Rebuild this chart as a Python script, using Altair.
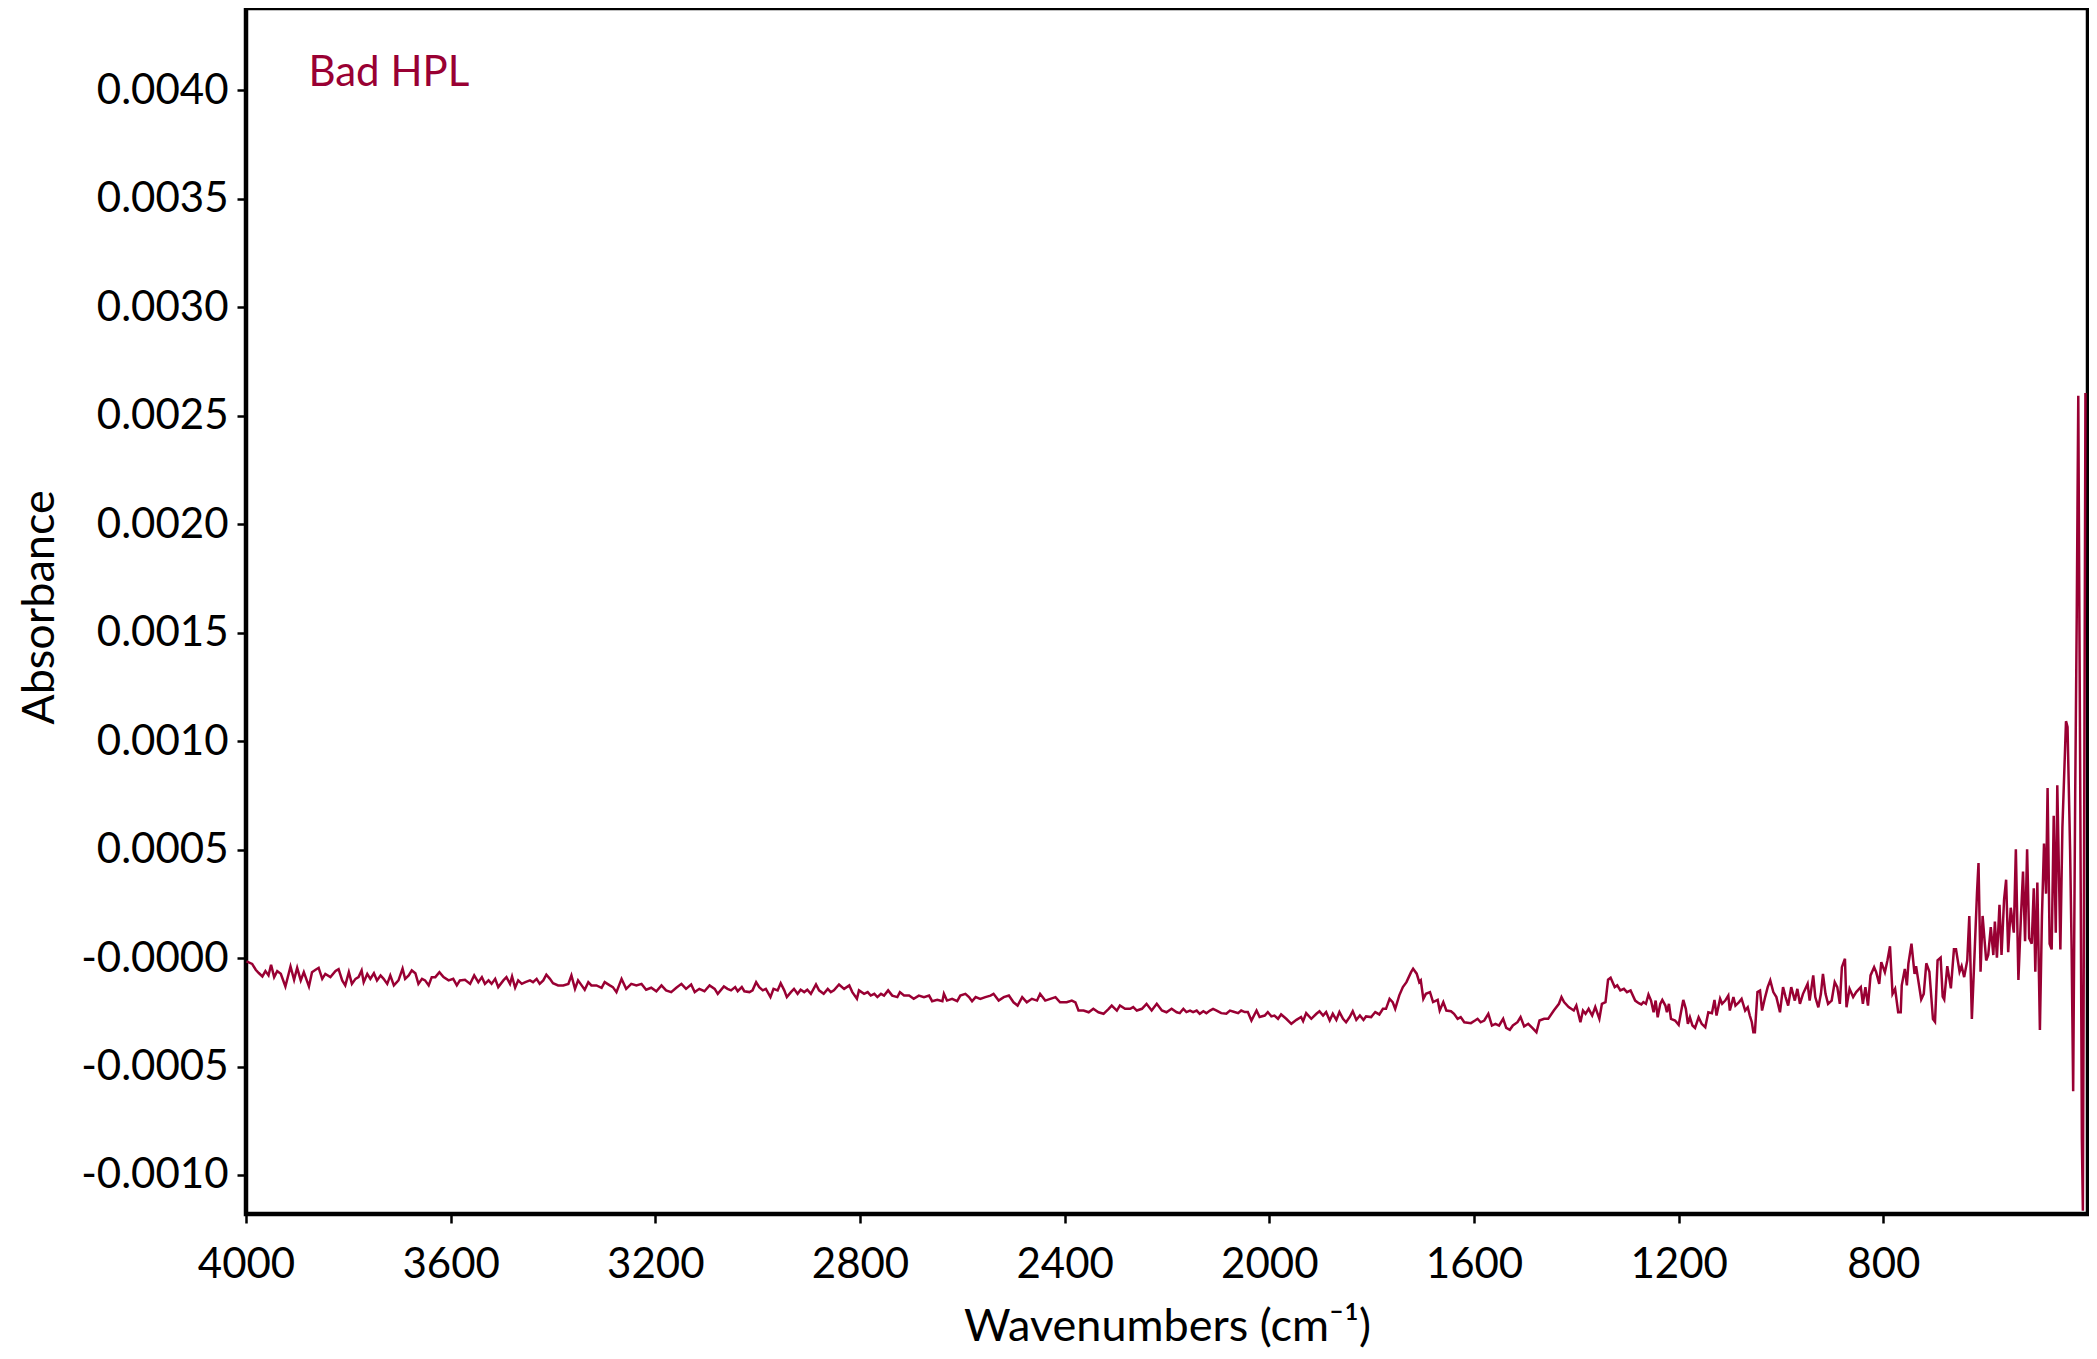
import altair as alt
import pandas as pd

# Spectrum: (wavenumber cm-1, absorbance)
seg_4000_3080 = [
    (3999, -0.000015), (3988, -0.000027), (3981, -0.000054), (3975, -0.000069), (3968, -0.000085),
    (3962, -0.000060), (3956, -0.000080), (3951, -0.000031), (3945, -0.000088), (3939, -0.000060),
    (3932, -0.000073), (3923, -0.000131), (3913, -0.000039), (3906, -0.000100), (3900, -0.000045),
    (3893, -0.000103), (3887, -0.000065), (3877, -0.000131), (3871, -0.000065), (3864, -0.000054),
    (3858, -0.000045), (3851, -0.000096), (3845, -0.000073), (3835, -0.000088), (3825, -0.000060),
    (3819, -0.000051), (3812, -0.000103), (3806, -0.000126), (3799, -0.000065), (3793, -0.000119),
    (3786, -0.000096), (3780, -0.000088), (3774, -0.000057), (3770, -0.000111), (3763, -0.000073),
    (3757, -0.000096), (3750, -0.000070), (3744, -0.000103), (3737, -0.000080), (3731, -0.000096),
    (3724, -0.000119), (3718, -0.000080), (3711, -0.000126), (3702, -0.000103), (3694, -0.000049),
    (3689, -0.000096), (3682, -0.000080), (3676, -0.000057), (3669, -0.000070), (3663, -0.000119),
    (3656, -0.000096), (3650, -0.000103), (3643, -0.000126), (3637, -0.000088), (3630, -0.000088),
    (3622, -0.000065), (3614, -0.000088), (3604, -0.000103), (3595, -0.000096), (3588, -0.000126),
    (3582, -0.000103), (3572, -0.000100), (3562, -0.000119), (3554, -0.000080), (3546, -0.000111),
    (3539, -0.000088), (3533, -0.000119), (3526, -0.000103), (3520, -0.000119), (3513, -0.000096),
    (3507, -0.000134), (3497, -0.000103), (3491, -0.000088), (3484, -0.000119), (3480, -0.000085),
    (3474, -0.000137), (3468, -0.000103), (3461, -0.000119), (3454, -0.000111), (3445, -0.000103),
    (3439, -0.000111), (3432, -0.000096), (3426, -0.000119), (3419, -0.000103), (3413, -0.000077),
    (3406, -0.000096), (3400, -0.000116), (3390, -0.000126), (3380, -0.000126), (3370, -0.000119),
    (3364, -0.000080), (3357, -0.000142), (3351, -0.000103), (3344, -0.000126), (3338, -0.000146),
    (3331, -0.000111), (3325, -0.000126), (3315, -0.000126), (3305, -0.000137), (3299, -0.000111),
    (3289, -0.000126), (3283, -0.000134), (3276, -0.000157), (3266, -0.000096), (3257, -0.000142),
    (3247, -0.000119), (3237, -0.000126), (3227, -0.000119), (3218, -0.000146), (3208, -0.000137),
    (3198, -0.000153), (3188, -0.000126), (3179, -0.000149), (3169, -0.000157), (3159, -0.000137),
    (3149, -0.000119), (3140, -0.000142), (3130, -0.000122), (3123, -0.000157), (3114, -0.000142),
    (3104, -0.000153), (3094, -0.000126), (3084, -0.000142), (3078, -0.000165),
]

seg_3070_2180 = [
    (3066, -0.000131), (3059, -0.000142), (3052, -0.000149), (3044, -0.000134), (3039, -0.000153),
    (3031, -0.000134), (3026, -0.000153), (3016, -0.000157), (3010, -0.000149), (3003, -0.000111),
    (2997, -0.000134), (2990, -0.000149), (2984, -0.000142), (2975, -0.000180), (2969, -0.000142),
    (2961, -0.000149), (2955, -0.000116), (2948, -0.000149), (2943, -0.000180), (2935, -0.000157),
    (2929, -0.000142), (2922, -0.000165), (2916, -0.000146), (2909, -0.000157), (2903, -0.000146),
    (2896, -0.000165), (2886, -0.000122), (2880, -0.000149), (2871, -0.000165), (2863, -0.000142),
    (2857, -0.000157), (2851, -0.000149), (2841, -0.000122), (2831, -0.000142), (2821, -0.000126),
    (2815, -0.000157), (2806, -0.000188), (2802, -0.000149), (2792, -0.000165), (2785, -0.000157),
    (2779, -0.000173), (2772, -0.000165), (2766, -0.000180), (2759, -0.000165), (2753, -0.000173),
    (2745, -0.000149), (2737, -0.000173), (2727, -0.000180), (2722, -0.000157), (2714, -0.000173),
    (2704, -0.000173), (2695, -0.000188), (2685, -0.000173), (2675, -0.000180), (2665, -0.000173),
    (2659, -0.000199), (2649, -0.000193), (2639, -0.000199), (2636, -0.000165), (2630, -0.000196),
    (2620, -0.000188), (2610, -0.000199), (2604, -0.000173), (2594, -0.000165), (2587, -0.000180),
    (2581, -0.000199), (2574, -0.000180), (2565, -0.000188), (2555, -0.000180), (2545, -0.000173),
    (2539, -0.000165), (2529, -0.000196), (2519, -0.000180), (2509, -0.000173), (2500, -0.000204),
    (2492, -0.000219), (2483, -0.000180), (2474, -0.000204), (2464, -0.000188), (2454, -0.000196),
    (2448, -0.000165), (2438, -0.000196), (2428, -0.000188), (2418, -0.000180), (2409, -0.000204),
    (2396, -0.000204), (2386, -0.000196), (2379, -0.000204), (2373, -0.000242), (2363, -0.000242),
    (2353, -0.000250), (2344, -0.000234), (2334, -0.000250), (2324, -0.000257), (2314, -0.000234),
    (2308, -0.000219), (2298, -0.000242), (2292, -0.000219), (2282, -0.000234), (2272, -0.000234),
    (2266, -0.000226), (2259, -0.000242), (2249, -0.000234), (2240, -0.000211), (2230, -0.000242),
    (2220, -0.000211), (2210, -0.000242), (2201, -0.000250), (2191, -0.000234), (2181, -0.000250),
]

seg_2175_1285 = [
    (2175, -0.000254), (2168, -0.000234), (2162, -0.000249), (2155, -0.000242), (2149, -0.000249),
    (2142, -0.000242), (2136, -0.000257), (2129, -0.000245), (2123, -0.000254), (2116, -0.000242),
    (2110, -0.000234), (2103, -0.000242), (2094, -0.000254), (2084, -0.000257), (2077, -0.000242),
    (2068, -0.000249), (2061, -0.000254), (2055, -0.000242), (2048, -0.000249), (2042, -0.000249),
    (2035, -0.000288), (2025, -0.000242), (2019, -0.000272), (2009, -0.000265), (2003, -0.000249),
    (1996, -0.000269), (1990, -0.000265), (1983, -0.000280), (1977, -0.000260), (1967, -0.000280),
    (1957, -0.000303), (1947, -0.000285), (1938, -0.000272), (1934, -0.000291), (1928, -0.000254),
    (1918, -0.000280), (1908, -0.000257), (1902, -0.000245), (1895, -0.000265), (1889, -0.000249),
    (1882, -0.000288), (1876, -0.000257), (1869, -0.000285), (1863, -0.000249), (1856, -0.000280),
    (1850, -0.000296), (1843, -0.000272), (1837, -0.000245), (1830, -0.000285), (1823, -0.000265),
    (1816, -0.000285), (1811, -0.000269), (1801, -0.000272), (1793, -0.000249), (1785, -0.000260),
    (1778, -0.000234), (1772, -0.000234), (1765, -0.000188), (1759, -0.000203), (1754, -0.000234),
    (1746, -0.000172), (1739, -0.000134), (1732, -0.000111), (1723, -0.000065), (1719, -0.000049),
    (1712, -0.000072), (1707, -0.000111), (1704, -0.000103), (1699, -0.000188), (1694, -0.000165),
    (1686, -0.000157), (1680, -0.000203), (1671, -0.000193), (1667, -0.000242), (1660, -0.000203),
    (1654, -0.000242), (1645, -0.000245), (1639, -0.000257), (1632, -0.000280), (1626, -0.000272),
    (1619, -0.000296), (1606, -0.000300), (1598, -0.000288), (1593, -0.000280), (1587, -0.000296),
    (1580, -0.000288), (1572, -0.000257), (1565, -0.000311), (1558, -0.000303), (1551, -0.000311),
    (1543, -0.000280), (1537, -0.000322), (1530, -0.000331), (1524, -0.000311), (1515, -0.000296),
    (1509, -0.000272), (1502, -0.000315), (1494, -0.000303), (1486, -0.000322), (1478, -0.000342),
    (1472, -0.000288), (1463, -0.000280), (1455, -0.000280), (1444, -0.000242), (1434, -0.000211),
    (1429, -0.000180), (1424, -0.000203), (1415, -0.000226), (1405, -0.000242), (1400, -0.000219),
    (1392, -0.000296), (1387, -0.000242), (1382, -0.000257), (1376, -0.000234), (1369, -0.000265),
    (1363, -0.000226), (1355, -0.000280), (1350, -0.000211), (1343, -0.000203), (1338, -0.000100),
    (1333, -0.000091), (1325, -0.000134), (1320, -0.000126), (1314, -0.000149), (1307, -0.000142),
    (1301, -0.000157), (1294, -0.000149), (1285, -0.000196),
]

seg_1278_739 = [
    (1278, -0.000208), (1273, -0.000214), (1269, -0.000203), (1264, -0.000211), (1259, -0.000168),
    (1254, -0.000196), (1249, -0.000250), (1245, -0.000196), (1241, -0.000273), (1236, -0.000211),
    (1232, -0.000193), (1226, -0.000219), (1223, -0.000250), (1219, -0.000211), (1215, -0.000280),
    (1207, -0.000288), (1200, -0.000308), (1196, -0.000257), (1191, -0.000193), (1186, -0.000234),
    (1182, -0.000303), (1178, -0.000273), (1173, -0.000311), (1168, -0.000322), (1161, -0.000273),
    (1155, -0.000303), (1148, -0.000319), (1142, -0.000250), (1135, -0.000254), (1130, -0.000193),
    (1126, -0.000265), (1119, -0.000188), (1115, -0.000211), (1109, -0.000196), (1103, -0.000173),
    (1100, -0.000242), (1093, -0.000180), (1089, -0.000219), (1082, -0.000203), (1077, -0.000188),
    (1070, -0.000242), (1065, -0.000227), (1061, -0.000265), (1057, -0.000296), (1054, -0.000342),
    (1051, -0.000342), (1046, -0.000157), (1041, -0.000150), (1037, -0.000242), (1031, -0.000180),
    (1026, -0.000134), (1021, -0.000103), (1015, -0.000157), (1009, -0.000180), (1002, -0.000250),
    (996, -0.000134), (991, -0.000180), (986, -0.000219), (980, -0.000134), (973, -0.000196),
    (968, -0.000142), (963, -0.000211), (957, -0.000165), (948, -0.000119), (944, -0.000196),
    (937, -0.000080), (933, -0.000180), (927, -0.000227), (922, -0.000165), (918, -0.000073),
    (913, -0.000165), (908, -0.000211), (901, -0.000196), (895, -0.000111), (890, -0.000134),
    (885, -0.000211), (881, -0.000042), (875, -0.000003), (872, -0.000227), (866, -0.000142),
    (859, -0.000180), (853, -0.000157), (844, -0.000134), (840, -0.000211), (835, -0.000134),
    (830, -0.000219), (825, -0.000080), (818, -0.000042), (814, -0.000065), (808, -0.000119),
    (804, -0.000019), (797, -0.000065), (792, -0.000011), (787, 0.000054), (782, -0.000165),
    (777, -0.000142), (771, -0.000250), (766, -0.000250), (764, -0.000126), (758, -0.000050),
    (754, -0.000126), (751, -0.000026), (745, 0.000066), (739, -0.000073),
]

seg_736_405 = [
    (736, -0.000037), (726, -0.000191), (721, -0.000165), (716, -0.000024), (710, -0.000063),
    (703, -0.000281), (699, -0.000294), (694, -0.000011), (688, 0.000002), (684, -0.000178),
    (681, -0.000191), (675, -0.000037), (668, -0.000140), (662, 0.000040), (658, 0.000040),
    (651, -0.000063), (647, -0.000037), (642, -0.000088), (636, -0.000011), (632, 0.000194),
    (627, -0.000281), (622, 0.000002), (617, 0.000297), (614, 0.000438), (610, -0.000063),
    (606, 0.000194), (599, -0.000011), (595, 0.000014), (590, 0.000143), (585, 0.000014),
    (582, 0.000168), (578, 0.000002), (573, 0.000245), (569, 0.000014), (564, 0.000271),
    (560, 0.000361), (556, 0.000027), (551, 0.000232), (545, 0.000117), (541, 0.000502),
    (536, -0.000101), (531, 0.000194), (527, 0.000399), (523, 0.000078), (519, 0.000502),
    (515, 0.000091), (510, 0.000066), (506, 0.000322), (503, -0.000063), (499, 0.000348),
    (494, -0.000332), (490, 0.000194), (486, 0.000528), (482, 0.000297), (479, 0.000784),
    (475, 0.000066), (471, 0.000040), (467, 0.000656), (463, 0.000117), (460, 0.000797),
    (454, 0.000040), (450, 0.000604), (443, 0.001092), (440, 0.001066), (435, 0.000502),
    (432, 0.000040), (429, -0.000614), (425, 0.000758), (422, 0.001579), (419, 0.002592),
    (415, 0.000707), (412, -0.000832), (410, -0.001165), (408, 0.000194), (405, 0.002605),
]

spectrum = seg_4000_3080 + seg_3070_2180 + seg_2175_1285 + seg_1278_739 + seg_736_405
df = pd.DataFrame(spectrum, columns=["wavenumber", "absorbance"])

label_wavenumber = [3878]
label_absorbance = [0.00402]
label_text = ["Bad HPL"]
label_df = pd.DataFrame({"wavenumber": label_wavenumber, "absorbance": label_absorbance, "text": label_text})

x_ticks = [4000, 3600, 3200, 2800, 2400, 2000, 1600, 1200, 800]
y_ticks = [-0.0010, -0.0005, 0.0, 0.0005, 0.0010, 0.0015, 0.0020, 0.0025, 0.0030, 0.0035, 0.0040]

FONT = "Lato"
RED = "#990033"

x_scale = alt.Scale(domain=[400, 4000], reverse=True, nice=False, zero=False)
y_scale = alt.Scale(domain=[-0.00118, 0.00438], nice=False, zero=False)

x_axis = alt.Axis(
    values=x_ticks, format="d", title="Wavenumbers (cm⁻¹)", grid=False, domain=False,
    ticks=True, tickSize=9, tickWidth=2.5, tickColor="black", labelFlush=False,
    labelFont=FONT, labelFontSize=42, labelColor="black", labelPadding=21,
    titleFont=FONT, titleFontSize=45, titleFontWeight="normal", titleColor="black",
    titleX=921, titleY=126, titleBaseline="alphabetic", titleAlign="center",
)
y_axis = alt.Axis(
    values=y_ticks, labelExpr="(datum.value <= 0 ? '-' : '') + format(abs(datum.value), '.4f')",
    title="Absorbance", grid=False, domain=False, labelFlush=False,
    ticks=True, tickSize=9, tickWidth=2.5, tickColor="black",
    labelFont=FONT, labelFontSize=42, labelColor="black", labelPadding=9,
    titleFont=FONT, titleFontSize=45, titleFontWeight="normal", titleColor="black",
    titleX=-193, titleY=599, titleAngle=270, titleBaseline="alphabetic", titleAlign="center",
)

line = alt.Chart(df).mark_line(color=RED, strokeWidth=2.5, clip=True).encode(
    x=alt.X("wavenumber:Q", scale=x_scale, axis=x_axis),
    y=alt.Y("absorbance:Q", scale=y_scale, axis=y_axis),
    order="wavenumber:Q",
)

label = alt.Chart(label_df).mark_text(
    align="left", baseline="alphabetic", font=FONT, fontSize=42, color=RED
).encode(
    x=alt.X("wavenumber:Q", scale=x_scale),
    y=alt.Y("absorbance:Q", scale=y_scale),
    text="text:N",
)

chart = alt.layer(line, label).properties(
    width=1842, height=1206,
    autosize=alt.AutoSizeParams(type="none"),
    padding={"left": 238, "top": 0, "right": 1, "bottom": 135},
    background="white",
).configure_view(stroke="black", strokeWidth=4.5)

chart.save("out.html", embed_options={"renderer": "svg", "actions": False})
